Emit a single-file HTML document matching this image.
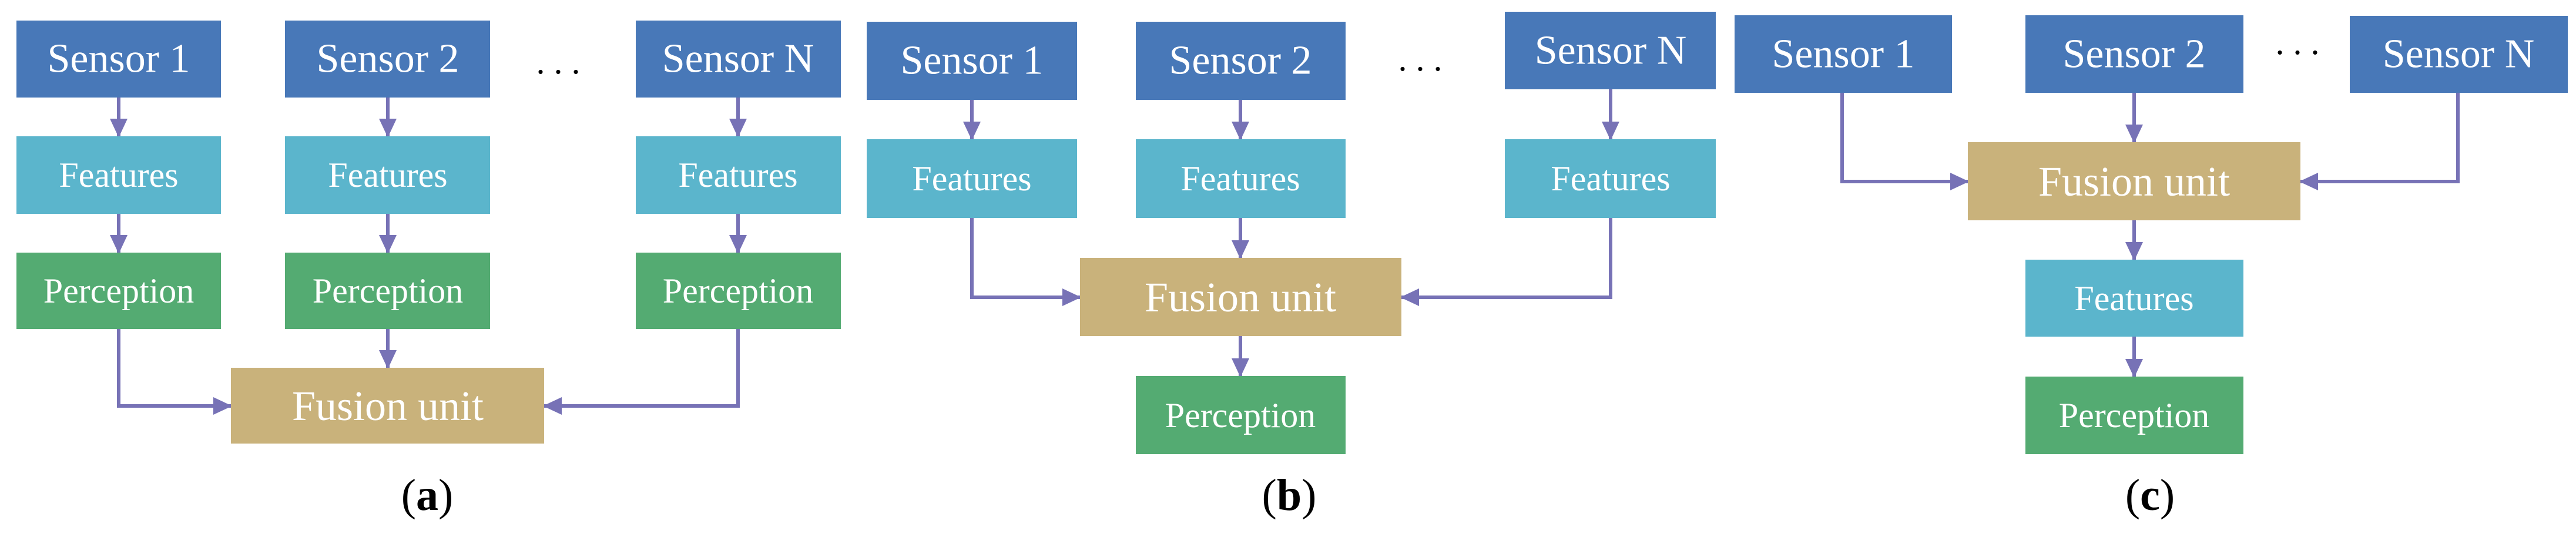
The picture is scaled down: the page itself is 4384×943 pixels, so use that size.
<!DOCTYPE html>
<html><head><meta charset="utf-8"><style>
html,body{margin:0;padding:0;background:#fff;}
svg{display:block;}
text{font-family:"Liberation Serif",serif;fill:#fff;text-anchor:middle;dominant-baseline:central;}
.l{fill:#000;}
.d{fill:#000;}
</style></head><body>
<svg width="4384" height="943" viewBox="0 0 4384 943" xmlns="http://www.w3.org/2000/svg">
<defs>
<marker id="ah" markerWidth="34" markerHeight="34" refX="30" refY="17" orient="auto" markerUnits="userSpaceOnUse">
<path d="M0,2 L32,17 L0,32 Z" fill="#7772b6"/></marker>
</defs>
<g stroke="#7772b6" stroke-width="6" fill="none" marker-end="url(#ah)">
<path d="M202,166 V232"/><path d="M660,166 V232"/><path d="M1256,166 V232"/>
<path d="M202,364 V430"/><path d="M660,364 V430"/><path d="M1256,364 V430"/>
<path d="M660,560 V626"/>
<path d="M202,560 V691 H393"/><path d="M1256,560 V691 H926"/>
<path d="M1654,170 V237"/><path d="M2111,170 V237"/><path d="M2741,152 V237"/>
<path d="M2111,371 V439"/>
<path d="M1654,371 V506 H1838"/><path d="M2741,371 V506 H2385"/>
<path d="M2111,572 V640"/>
<path d="M3632,158 V242"/>
<path d="M3135,158 V309 H3349"/><path d="M4183,158 V309 H3915"/>
<path d="M3632,375 V442"/><path d="M3632,573 V641"/>
</g>
<g>
<rect x="28" y="35" width="348" height="131" fill="#4878b8"/>
<rect x="485" y="35" width="349" height="131" fill="#4878b8"/>
<rect x="1082" y="35" width="349" height="131" fill="#4878b8"/>
<rect x="28" y="232" width="348" height="132" fill="#5bb5cc"/>
<rect x="485" y="232" width="349" height="132" fill="#5bb5cc"/>
<rect x="1082" y="232" width="349" height="132" fill="#5bb5cc"/>
<rect x="28" y="430" width="348" height="130" fill="#54ab72"/>
<rect x="485" y="430" width="349" height="130" fill="#54ab72"/>
<rect x="1082" y="430" width="349" height="130" fill="#54ab72"/>
<rect x="393" y="626" width="533" height="129" fill="#c9b27b"/>
<rect x="1475" y="37" width="358" height="133" fill="#4878b8"/>
<rect x="1933" y="37" width="357" height="133" fill="#4878b8"/>
<rect x="2561" y="20" width="359" height="132" fill="#4878b8"/>
<rect x="1475" y="237" width="358" height="134" fill="#5bb5cc"/>
<rect x="1933" y="237" width="357" height="134" fill="#5bb5cc"/>
<rect x="2561" y="237" width="359" height="134" fill="#5bb5cc"/>
<rect x="1838" y="439" width="547" height="133" fill="#c9b27b"/>
<rect x="1933" y="640" width="357" height="133" fill="#54ab72"/>
<rect x="2952" y="26" width="370" height="132" fill="#4878b8"/>
<rect x="3447" y="26" width="371" height="132" fill="#4878b8"/>
<rect x="3999" y="27" width="371" height="131" fill="#4878b8"/>
<rect x="3349" y="242" width="566" height="133" fill="#c9b27b"/>
<rect x="3447" y="442" width="371" height="131" fill="#5bb5cc"/>
<rect x="3447" y="641" width="371" height="132" fill="#54ab72"/>
</g>
<g font-size="70">
<text x="202" y="100">Sensor 1</text><text x="660" y="100">Sensor 2</text><text x="1256" y="100">Sensor N</text>
<text x="1654" y="103">Sensor 1</text><text x="2111" y="103">Sensor 2</text><text x="2741" y="86">Sensor N</text>
<text x="3137" y="92">Sensor 1</text><text x="3632" y="92">Sensor 2</text><text x="4184" y="92">Sensor N</text>
</g>
<g font-size="60">
<text x="202" y="298">Features</text><text x="660" y="298">Features</text><text x="1256" y="298">Features</text>
<text x="202" y="495">Perception</text><text x="660" y="495">Perception</text><text x="1256" y="495">Perception</text>
<text x="1654" y="304">Features</text><text x="2111" y="304">Features</text><text x="2741" y="304">Features</text>
<text x="2111" y="707">Perception</text>
<text x="3632" y="508">Features</text><text x="3632" y="707">Perception</text>
</g>
<g font-size="72">
<text x="660" y="691">Fusion unit</text>
<text x="2111" y="506">Fusion unit</text>
<text x="3632" y="309">Fusion unit</text>
</g>
<g font-size="60">
<text class="d" x="950" y="105">. . .</text>
<text class="d" x="2417" y="100">. . .</text>
<text class="d" x="3910" y="72">. . .</text>
</g>
<g font-size="76">
<text x="727" y="843" class="l">(<tspan font-weight="bold">a</tspan>)</text>
<text x="2194" y="843" class="l">(<tspan font-weight="bold">b</tspan>)</text>
<text x="3659" y="843" class="l">(<tspan font-weight="bold">c</tspan>)</text>
</g>
</svg>
</body></html>
